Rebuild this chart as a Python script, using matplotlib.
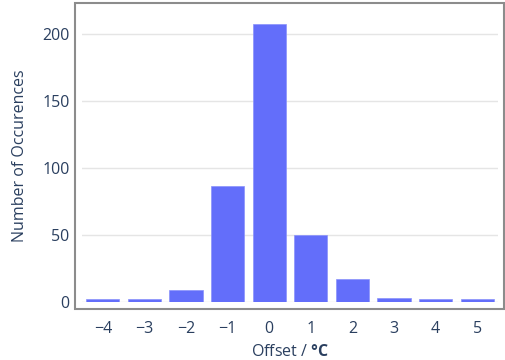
import matplotlib
matplotlib.use('Agg')
import matplotlib.pyplot as plt
import matplotlib.patches as patches

# offset bins and counts
offsets = [-4, -3, -2, -1, 0, 1, 2, 3, 4, 5]
counts = [2, 2, 9, 86, 207, 50, 17, 3, 2, 2]
y_ticks = [0, 50, 100, 150, 200]

text_color = '#2a3f5f'
bar_color = '#636efa'

plt.rcParams['font.family'] = ['Open Sans', 'DejaVu Sans']
plt.rcParams['mathtext.fontset'] = 'custom'
plt.rcParams['mathtext.rm'] = 'Open Sans'
plt.rcParams['mathtext.bf'] = 'Open Sans:bold'

W, H = 506, 360
fig = plt.figure(figsize=(W / 100, H / 100), dpi=100)
ax = fig.add_axes([82 / W, (H - 301.7) / H, 416 / W, (301.7 - 10) / H])

ax.bar(offsets, counts, width=0.8, color=bar_color, edgecolor='#8a92fb', linewidth=0.5, zorder=2)

ax.set_xlim(-4.5, 5.5)
ax.set_ylim(0, 217.7)
ax.set_xticks(offsets)
ax.set_xticklabels([str(o).replace('-', '\u2212') for o in offsets])
ax.set_yticks(y_ticks)

ax.grid(axis='y', color='#e5e5e5', linewidth=1, zorder=0)
ax.set_axisbelow(True)

for side in ['left', 'bottom', 'top', 'right']:
    ax.spines[side].set_visible(False)

# box drawn a few pixels outside the plot area
x0, x1, y_top, y_bot = 75.5, 504, 3.5, 309
box = patches.Rectangle((x0 / W, (H - y_bot) / H), (x1 - x0) / W, (y_bot - y_top) / H,
                        transform=fig.transFigure, fill=False, edgecolor='#8c8c8c', linewidth=1.5)
fig.add_artist(box)

ax.tick_params(length=0, labelsize=11.5, labelcolor=text_color)
ax.tick_params(axis='y', pad=9)
ax.tick_params(axis='x', pad=14)

ax.set_ylabel('Number of Occurences', fontsize=11.5, color=text_color, labelpad=10)
ax.set_xlabel(r'Offset / $\mathbf{°C}$', fontsize=11.5, color=text_color, labelpad=5)

fig.savefig('out.png', dpi=100)
